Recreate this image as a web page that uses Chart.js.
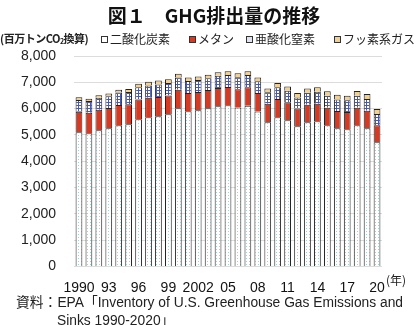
<!DOCTYPE html>
<html lang="ja">
<head>
<meta charset="UTF-8">
<title>GHG排出量の推移</title>
<script src="https://cdn.jsdelivr.net/npm/chart.js"></script>
<style>
  html, body { margin: 0; padding: 0; background: #fff; }
  body { width: 418px; height: 325px; position: relative; overflow: hidden;
         font-family: "Liberation Sans", "Noto Sans CJK JP", sans-serif; color: #222; }
  #wrap { position: absolute; left: 0; top: 0; width: 418px; height: 325px; }
  .t { position: absolute; white-space: nowrap; }
  #title { left: 0; width: 428px; top: 1px; text-align: center; font-size: 19px; font-weight: bold;
           font-family: "Noto Sans CJK JP", sans-serif; color: #111; }
  #unit { left: 0; top: 30px; font-size: 11px; font-weight: bold; font-family: "Noto Sans CJK JP", sans-serif; letter-spacing: -0.5px; }
  #unit sub { font-size: 7px; vertical-align: -1px; }
  .lg { top: 30px; font-size: 12px; font-family: "Noto Sans CJK JP", sans-serif; }
  .lg i { display: inline-block; width: 5px; height: 5px; border: 1px solid #333; margin-right: 2px; vertical-align: 1px; }
  #nen { left: 386px; top: 271px; font-size: 12px; font-family: "Noto Sans CJK JP", sans-serif; }
  .src { font-size: 13.8px; font-family: "Liberation Sans", "Noto Sans CJK JP", sans-serif; }
</style>
</head>
<body>
<div id="wrap"><canvas id="c" width="418" height="325"></canvas></div>
<div class="t" id="title">図１　GHG排出量の推移</div>
<div class="t" id="unit">(百万トンCO<sub>2</sub>換算)</div>
<div class="t lg" style="left:101px"><i style="background:#fff"></i>二酸化炭素</div>
<div class="t lg" style="left:189px"><i style="background:#d63a22"></i>メタン</div>
<div class="t lg" style="left:246px"><i style="background:#dfe3f3"></i>亜酸化窒素</div>
<div class="t lg" style="left:334px"><i style="background:#f4d08f"></i>フッ素系ガス</div>
<div class="t" id="nen">(年)</div>
<div class="t src" style="left:16px; top:291px">資料：EPA「Inventory of U.S. Greenhouse Gas Emissions and</div>
<div class="t src" style="left:57px; top:309px">Sinks 1990-2020」</div>
<script>
const years = ['1990','91','92','93','94','95','96','97','98','99','2000','01','02','03','04','05',
  '06','07','08','09','10','11','12','13','14','15','16','17','18','19','20'];
const tickLabels = ['1990','','','93','','','96','','','99','','','2002','','','05',
  '','','08','','','11','','','14','','','17','','','20'];
const co2 = [5100,5065,5180,5255,5370,5405,5597,5673,5710,5787,6015,5900,5940,6015,6090,6129,
  6045,6114,5886,5483,5673,5559,5331,5483,5521,5369,5255,5217,5369,5255,4722];
const ch4 = [780,780,775,765,765,760,750,745,730,715,705,695,695,690,690,690,
  695,700,705,700,695,680,670,665,665,665,650,655,665,660,650];
const n2o = [450,445,455,455,480,465,470,465,475,470,460,455,450,445,465,455,
  455,460,445,440,445,440,425,455,455,455,445,445,460,455,425];
const fgas = [100,90,95,100,105,115,125,135,150,145,150,135,140,135,140,145,
  145,150,150,145,160,165,165,165,170,175,175,175,180,185,190];

function tile(size, draw) {
  const c = document.createElement('canvas');
  c.width = size; c.height = size;
  const g = c.getContext('2d');
  draw(g);
  return document.getElementById('c').getContext('2d').createPattern(c, 'repeat');
}
const dotFill = tile(3, g => {
  g.fillStyle = '#ffffff'; g.fillRect(0, 0, 3, 3);
  g.fillStyle = '#a9cfcf'; g.fillRect(0, 0, 1, 1);
});
const gridFill = tile(3, g => {
  g.fillStyle = '#ffffff'; g.fillRect(0, 0, 3, 3);
  g.fillStyle = '#4a5aa8'; g.fillRect(0, 0, 3, 1); g.fillRect(0, 0, 1, 3);
});

const common = { borderColor: '#222', borderWidth: 1, barPercentage: 0.68, categoryPercentage: 1 };

new Chart(document.getElementById('c'), {
  type: 'bar',
  data: {
    labels: years,
    datasets: [
      Object.assign({ label: '二酸化炭素', data: co2, backgroundColor: dotFill }, common),
      Object.assign({ label: 'メタン', data: ch4, backgroundColor: '#d63a22' }, common),
      Object.assign({ label: '亜酸化窒素', data: n2o, backgroundColor: gridFill }, common),
      Object.assign({ label: 'フッ素系ガス', data: fgas, backgroundColor: '#f4d08f' }, common)
    ]
  },
  options: {
    responsive: false,
    animation: false,
    layout: { padding: { top: 56, right: 36, left: 0, bottom: 0 } },
    plugins: { legend: { display: false }, tooltip: { enabled: false } },
    scales: {
      x: {
        stacked: true,
        grid: { display: false },
        border: { display: false },
        ticks: {
          autoSkip: false, maxRotation: 0, padding: 5,
          color: '#111', font: { size: 14, family: 'Liberation Sans' },
          callback: (v, i) => tickLabels[i]
        },
        afterFit: s => { s.height = 325 - 56 - 210.5; }
      },
      y: {
        stacked: true,
        min: 0, max: 8000,
        grid: { color: '#dcdcdc', lineWidth: 1, tickLength: 0 },
        border: { display: false },
        ticks: {
          stepSize: 1000, padding: 18, color: '#222',
          font: { size: 14, family: 'Liberation Sans' },
          callback: v => v.toLocaleString('en-US')
        },
        afterFit: s => { s.width = 74; }
      }
    }
  }
});
</script>
</body>
</html>
